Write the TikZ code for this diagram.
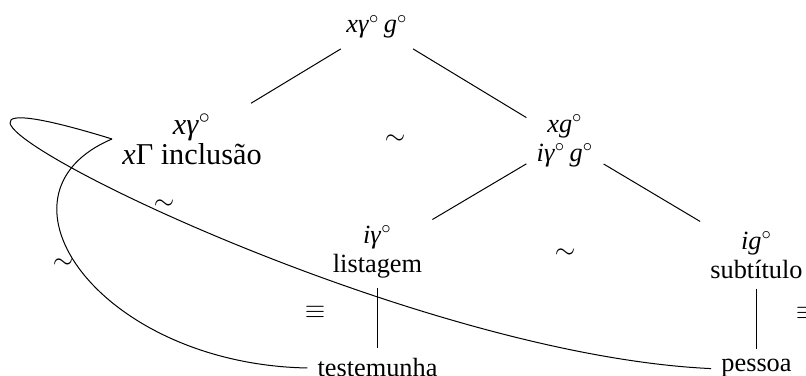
\documentclass[tikz,border=0pt]{standalone}
\usepackage{fontspec}
\setmainfont{Liberation Serif}
\newcommand\mi[1]{\textit{#1}}
\newcommand\dg{\ensuremath{^{\circ}}}
\begin{document}
\begin{tikzpicture}[x=0.456pt,y=-0.456pt,
  every node/.style={font=\fontsize{12}{13.2}\selectfont, inner sep=4.5pt},
  tnode/.style={align=center},
  bigger/.style={font=\fontsize{13.8}{13.4}\selectfont},
  edge/.style={line width=0.456pt}]
\useasboundingbox (0,0) rectangle (806,376);
% tree nodes
\node[anchor=base] (root) at (377,33) {\mi{xγ}\dg\,\mi{g}\dg};
\node[tnode,bigger] (left) at (192,139) {\mi{xγ}\dg\\\mi{x}Γ inclusão};
\node[tnode] (right) at (565,141) {\mi{xg}\dg\\\mi{iγ}\dg\,\mi{g}\dg};
\node[tnode] (lower) at (377.5,252) {\mi{iγ}\dg\\listagem};
\node[tnode] (ig) at (756.5,255) {\mi{ig}\dg\\subtítulo};
\node[anchor=base] (testemunha) at (377.5,377) {testemunha};
\node[anchor=base] (pessoa) at (756.5,372) {pessoa};
% relation labels
\node (s1) at (395,140) {$\sim$};
\node (s2) at (565,254) {$\sim$};
\node (s3) at (164,205) {$\sim$};
\node (s4) at (63,264) {$\sim$};
\node (e1) at (315,312) {$\equiv$};
\node (e2) at (806,313) {$\equiv$};
% tree edges
\draw[edge] (root) -- (left);
\draw[edge] (root) -- (right);
\draw[edge] (right) -- (lower);
\draw[edge] (right) -- (ig);
\draw[edge] (lower) -- (testemunha);
\draw[edge] (ig) -- (pessoa);
% curves
\draw[edge] (pessoa.west) .. controls +(-350,-16) and +(-340,-105) .. (left.west);
\draw[edge] (testemunha.west) .. controls +(-207,-4) and +(-132,56) .. (left.west);
\end{tikzpicture}
\end{document}
